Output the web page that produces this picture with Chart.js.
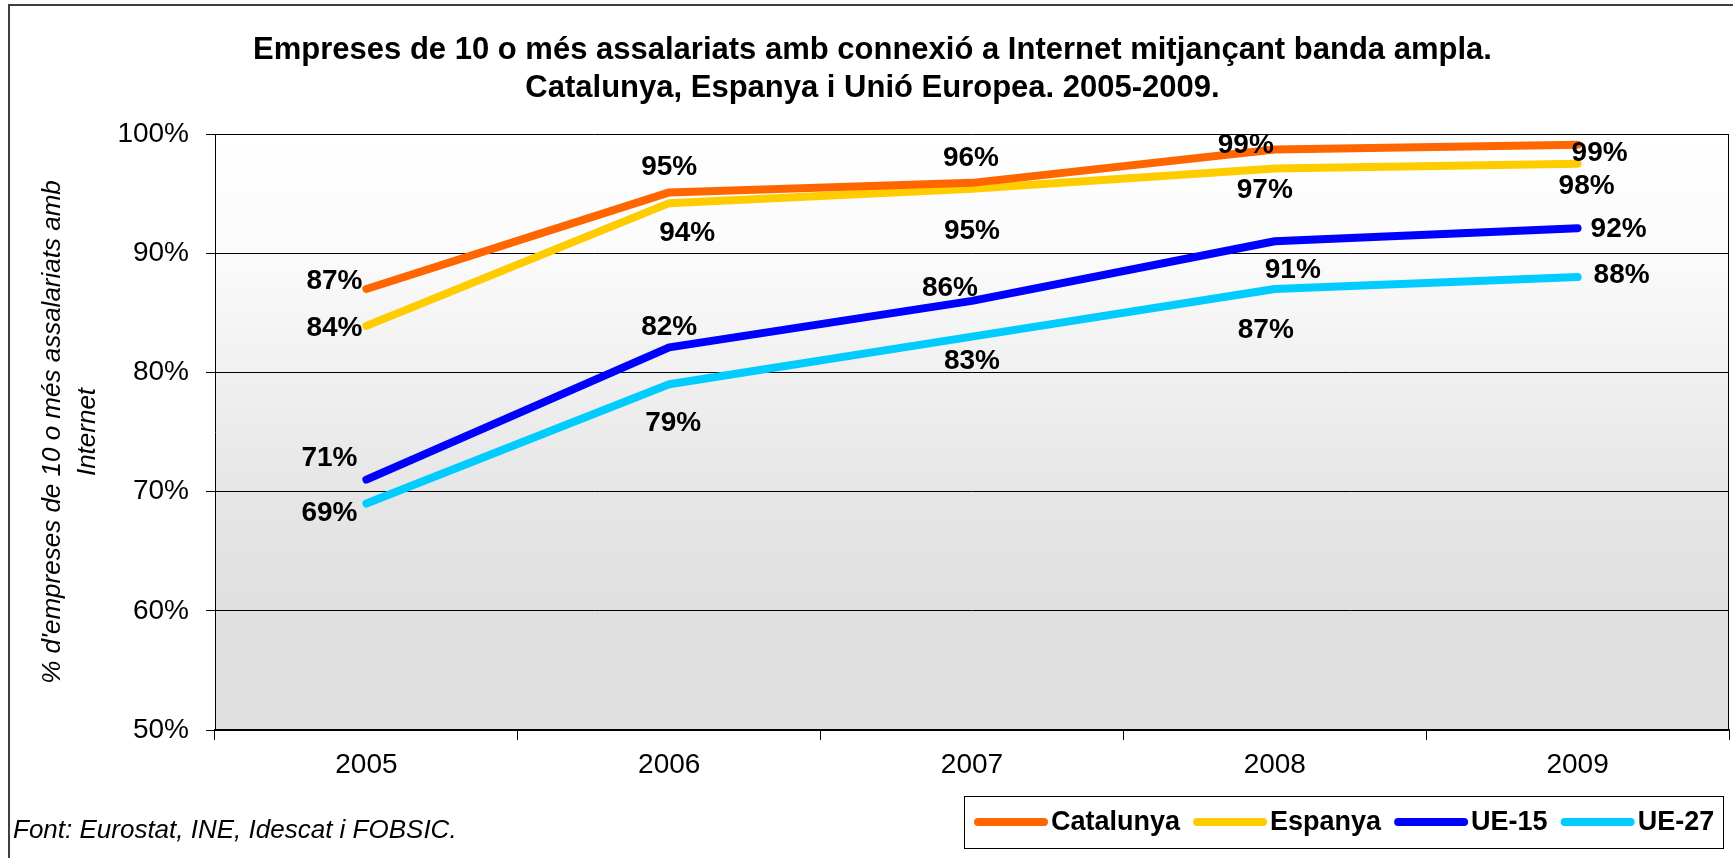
<!DOCTYPE html>
<html>
<head>
<meta charset="utf-8">
<script src="https://cdn.jsdelivr.net/npm/chart.js@4"></script>
<style>
  html, body { margin: 0; padding: 0; background: #ffffff; }
  #wrap { position: relative; width: 1733px; height: 858px; }
</style>
</head>
<body>
<div id="wrap"><canvas id="c"></canvas></div>
<script>
// ---- data ----
const years = ['2005', '2006', '2007', '2008', '2009'];
const catalunya = [87.0, 95.1, 95.9, 98.7, 99.1];
const espanya   = [83.9, 94.2, 95.4, 97.1, 97.5];
const ue15      = [71.0, 82.1, 86.0, 91.0, 92.1];
const ue27      = [69.0, 79.0, 83.0, 87.0, 88.0];
const seriesNames = ['Catalunya', 'Espanya', 'UE-15', 'UE-27'];
const titleLines = ['Empreses de 10 o més assalariats amb connexió a Internet mitjançant banda ampla.',
                    'Catalunya, Espanya i Unió Europea. 2005-2009.'];
const yTitleLines = ["% d'empreses de 10 o més assalariats amb", 'Internet'];
const sourceText = 'Font: Eurostat, INE, Idescat i FOBSIC.';
const yMin = 50, yMax = 100, yStep = 10;

// ---- styles ----
const colors = ['#ff6600', '#ffcc00', '#0000ff', '#00ccff'];
const FONT = '"Liberation Sans", Arial, Helvetica, sans-serif';
// data label offsets (px) relative to each point
const labelOffsets = [
  [[-32, -8], [0, -25], [-1, -25], [-29, -4], [22, 9]],
  [[-32, 2], [18, 30], [0, 42], [-10, 22], [9, 22]],
  [[-37, -21], [0, -20], [-22, -13], [18, 29], [41, 1]],
  [[-37, 10], [4, 39], [0, 25], [-9, 41], [44, -2]]
];

const allSeries = [catalunya, espanya, ue15, ue27];

const bgPlugin = {
  id: 'bgPlugin',
  beforeDraw(chart) {
    const { ctx, chartArea: a } = chart;
    ctx.save();
    ctx.fillStyle = '#ffffff';
    ctx.fillRect(0, 0, chart.width, chart.height);
    const g = ctx.createLinearGradient(0, a.top, 0, a.bottom);
    g.addColorStop(0, '#ffffff');
    g.addColorStop(0.2, '#fbfbfb');
    g.addColorStop(0.4, '#f0f0f0');
    g.addColorStop(0.6, '#e6e6e6');
    g.addColorStop(0.8, '#e0e0e0');
    g.addColorStop(1, '#e0e0e0');
    ctx.fillStyle = g;
    ctx.fillRect(a.left, a.top, a.right - a.left, a.bottom - a.top);
    ctx.restore();
  },
  afterDatasetsDraw(chart) {
    const { ctx } = chart;
    ctx.save();
    ctx.font = 'bold 28px ' + FONT;
    ctx.fillStyle = '#000000';
    ctx.textAlign = 'center';
    ctx.textBaseline = 'middle';
    chart.data.datasets.forEach((ds, i) => {
      const meta = chart.getDatasetMeta(i);
      meta.data.forEach((pt, j) => {
        const off = labelOffsets[i][j];
        ctx.fillText(Math.round(ds.data[j]) + '%', pt.x + off[0], pt.y + off[1]);
      });
    });
    ctx.restore();
  },
  afterDraw(chart) {
    const { ctx, chartArea: a } = chart;
    ctx.save();
    // plot border (right side)
    ctx.strokeStyle = '#000000';
    ctx.lineWidth = 1;
    ctx.beginPath();
    ctx.moveTo(a.right - 0.5, a.top);
    ctx.lineTo(a.right - 0.5, a.bottom);
    ctx.stroke();
    // outer frame
    ctx.strokeStyle = '#3f3f3f';
    ctx.lineWidth = 2;
    ctx.beginPath();
    ctx.moveTo(9, chart.height);
    ctx.lineTo(9, 5);
    ctx.lineTo(chart.width, 5);
    ctx.stroke();

    // title
    const cx = chart.width / 2 + 6;
    ctx.fillStyle = '#000000';
    ctx.textAlign = 'center';
    ctx.textBaseline = 'middle';
    ctx.font = 'bold 31px ' + FONT;
    ctx.fillText(titleLines[0], cx, 50);
    ctx.fillText(titleLines[1], cx, 88);

    // y title
    ctx.save();
    ctx.translate(0, (a.top + a.bottom) / 2);
    ctx.rotate(-Math.PI / 2);
    ctx.font = 'italic 26px ' + FONT;
    ctx.fillText(yTitleLines[0], 0, 53);
    ctx.fillText(yTitleLines[1], 0, 88);
    ctx.restore();

    // source
    ctx.textAlign = 'left';
    ctx.font = 'italic 26px ' + FONT;
    ctx.fillText(sourceText, 13, 831);

    // legend
    const lx = 964, ly = 796, lw = 759, lh = 52;
    ctx.fillStyle = '#ffffff';
    ctx.fillRect(lx, ly, lw, lh);
    ctx.strokeStyle = '#000000';
    ctx.lineWidth = 1;
    ctx.strokeRect(lx + 0.5, ly + 0.5, lw, lh);
    ctx.font = 'bold 27px ' + FONT;
    ctx.textBaseline = 'middle';
    ctx.textAlign = 'left';
    let x = lx + 14;
    const cy = ly + lh / 2;
    chart.data.datasets.forEach((ds) => {
      ctx.strokeStyle = ds.borderColor;
      ctx.lineWidth = 8;
      ctx.lineCap = 'round';
      ctx.beginPath();
      ctx.moveTo(x, cy);
      ctx.lineTo(x + 66, cy);
      ctx.stroke();
      x += 73;
      ctx.fillStyle = '#000000';
      ctx.fillText(ds.label, x, cy + 1);
      x += ctx.measureText(ds.label).width + 17;
    });
    ctx.restore();
  }
};

new Chart(document.getElementById('c'), {
  type: 'line',
  data: {
    labels: years,
    datasets: allSeries.map((d, i) => ({
      label: seriesNames[i],
      data: d,
      borderColor: colors[i],
      backgroundColor: colors[i],
      borderWidth: 8,
      borderCapStyle: 'round',
      borderJoinStyle: 'round',
      pointRadius: 0,
      pointHoverRadius: 0,
      tension: 0,
      fill: false
    }))
  },
  plugins: [bgPlugin],
  options: {
    responsive: true,
    maintainAspectRatio: false,
    animation: false,
    devicePixelRatio: 1,
    layout: { padding: { top: 134, right: 4, left: 0, bottom: 0 } },
    plugins: {
      legend: { display: false },
      title: { display: false },
      tooltip: { enabled: false }
    },
    scales: {
      x: {
        offset: true,
        afterFit(s) { s.height = 128; },
        grid: {
          offset: true,
          drawOnChartArea: false,
          drawTicks: true,
          tickLength: 10,
          color: '#000000',
          lineWidth: 1
        },
        border: { display: true, color: '#000000', width: 2 },
        ticks: {
          color: '#000000',
          font: { family: FONT, size: 28 },
          padding: 8,
          maxRotation: 0
        }
      },
      y: {
        min: yMin,
        max: yMax,
        afterFit(s) { s.width = 215; },
        grid: {
          color: '#000000',
          lineWidth: 1,
          drawTicks: true,
          tickLength: 9
        },
        border: { display: true, color: '#000000', width: 1 },
        ticks: {
          stepSize: yStep,
          color: '#000000',
          font: { family: FONT, size: 28 },
          padding: 17,
          callback: v => v + '%'
        }
      }
    }
  }
});
</script>
</body>
</html>
